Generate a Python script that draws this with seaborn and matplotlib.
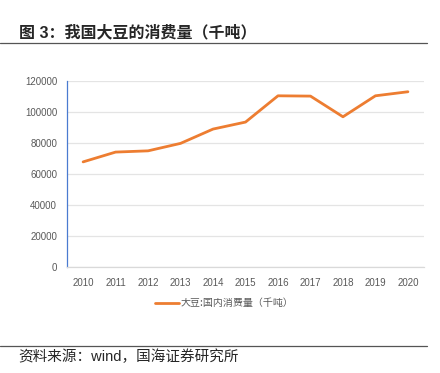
import matplotlib
matplotlib.use("Agg")
import matplotlib.pyplot as plt
from matplotlib.lines import Line2D
from matplotlib.ticker import FixedLocator
import pandas as pd
import seaborn as sns

# data (thousand tonnes)
years = [2010, 2011, 2012, 2013, 2014, 2015, 2016, 2017, 2018, 2019, 2020]
consumption = [67800, 74100, 74900, 79700, 88900, 93400, 110300, 110100, 96800, 110300, 112900]
yticks = [0, 20000, 40000, 60000, 80000, 100000, 120000]
series_label = "大豆:国内消费量（千吨）"
title = "图 3：我国大豆的消费量（千吨）"
source = "资料来源：wind，国海证券研究所"

sns.set_style("white")
plt.rcParams['font.family'] = ['Liberation Sans', 'Noto Sans CJK SC', 'DejaVu Sans']

df = pd.DataFrame({"year": years, "value": consumption})

fig = plt.figure(figsize=(4.4, 3.73), dpi=100)
ax = fig.add_axes([0.152, 0.2834, 0.812, 0.5002])

sns.lineplot(data=df, x="year", y="value", color="#ED7D31", linewidth=2.0, ax=ax)

ax.set_xlim(years[0] - 0.5, years[-1] + 0.5)
ax.set_ylim(0, 120000)
ax.set_yticks(yticks)
ax.set_xticks(years)
ax.xaxis.set_minor_locator(FixedLocator([y - 0.5 for y in years] + [years[-1] + 0.5]))
ax.set_xlabel("")
ax.set_ylabel("")

ax.grid(axis="y", color="#E4E4E4", linewidth=0.9)
ax.set_axisbelow(True)
for s in ["top", "right"]:
    ax.spines[s].set_visible(False)
ax.spines["left"].set_color("#4A7BD0")
ax.spines["left"].set_linewidth(0.9)
ax.spines["bottom"].set_color("#D9D9D9")
ax.spines["bottom"].set_linewidth(0.9)

ax.tick_params(axis="y", which="major", length=3, width=0.8, color="#4A7BD0",
               labelsize=7, labelcolor="#595959", pad=4)
ax.tick_params(axis="x", which="major", length=0, labelsize=7, labelcolor="#595959", pad=8)
ax.tick_params(axis="x", which="minor", length=3, width=0.8, color="#D9D9D9")

handle = Line2D([0], [0], color="#ED7D31", linewidth=2.0)
leg = fig.legend([handle], [series_label], loc="center", bbox_to_anchor=(0.51, 0.187),
                 frameon=False, handlelength=2.4, handletextpad=0.2,
                 prop={'family': ['Noto Sans CJK SC'], 'size': 7.2})
for t in leg.get_texts():
    t.set_color("#595959")

fig.text(0.043, 0.912, title, fontsize=11.5, fontweight="bold", va="center", ha="left")
fig.add_artist(Line2D([0, 0.97], [0.884, 0.884], color="#555555", linewidth=0.9))
fig.add_artist(Line2D([0, 0.97], [0.073, 0.073], color="#555555", linewidth=0.9))
fig.text(0.041, 0.043, source, fontsize=10.5, va="center", ha="left")

fig.savefig("out.png", dpi=100, facecolor="white")
